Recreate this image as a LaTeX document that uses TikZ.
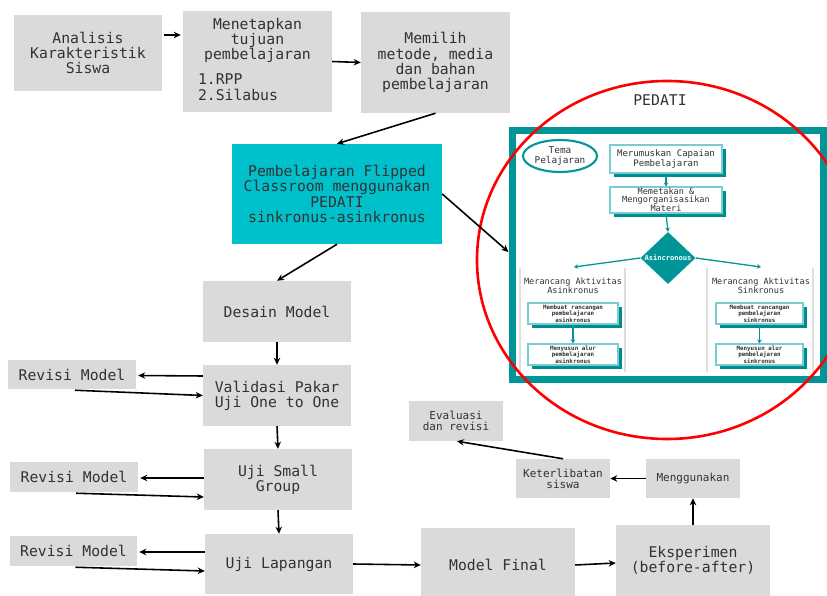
\documentclass[tikz,border=0pt]{standalone}
\usepackage{fontspec}
\setmonofont{DejaVu Sans Mono}
\usetikzlibrary{positioning,calc,shapes.geometric,arrows.meta,shadows}
\definecolor{boxgrey}{RGB}{218,218,218}
\definecolor{txtgrey}{RGB}{50,50,50}
\definecolor{flipteal}{RGB}{0,192,204}
\definecolor{frameteal}{RGB}{0,150,152}
\definecolor{shadeteal}{RGB}{0,140,142}
\definecolor{lineteal}{RGB}{120,205,210}
\definecolor{panelgrey}{RGB}{222,222,222}
\newcommand{\px}{0.03cm}
\tikzset{
  box/.style={fill=boxgrey, text=txtgrey, align=center, inner sep=0pt,
    font=\ttfamily\fontsize{12.6}{12.9}\selectfont},
  minibox/.style={box, font=\ttfamily\fontsize{9.4}{9.6}\selectfont},
  arr/.style={-{Stealth[length=6pt,width=5.5pt]}, line width=1.35pt, black},
  tarr/.style={-{Stealth[length=3.5pt,width=4pt]}, line width=1.1pt, frameteal},
  stepbox/.style={fill=white, draw=lineteal, line width=0.9pt, align=center,
    text=txtgrey, inner sep=0pt,
    drop shadow={shadow xshift=3.5pt, shadow yshift=-3.5pt, fill=shadeteal, opacity=1}},
  tinytext/.style={font=\ttfamily\bfseries\fontsize{5}{5.6}\selectfont},
  paneltitle/.style={text=txtgrey, align=center, font=\ttfamily\fontsize{7.3}{7.4}\selectfont},
}
\begin{document}
\begin{tikzpicture}[x=\px, y=-\px]
\useasboundingbox (0,0) rectangle (827,596);
\clip (0,0) rectangle (827,596);

% Design stages at the top
\node[box, minimum width=148*\px, minimum height=76*\px] (ana) at (88,53) {Analisis\\Karakteristik\\Siswa};
\node[box, minimum width=149*\px, minimum height=101*\px] (tuj) at (257.5,61.5) {};
\node[text=txtgrey, align=center, anchor=north, inner sep=0pt,
  font=\ttfamily\fontsize{12.6}{12.9}\selectfont] (tujtxt) at ($(tuj.north)+(0,7)$) {Menetapkan\\tujuan\\pembelajaran};
\node[text=txtgrey, align=left, anchor=north west, inner sep=0pt,
  font=\ttfamily\fontsize{12.6}{13.6}\selectfont] (tujlist) at ($(tuj.north west)+(15,63)$) {1.RPP\\2.Silabus};
\node[box, minimum width=149*\px, minimum height=101*\px] (met) at (435.5,62.5) {Memilih\\metode, media\\dan bahan\\pembelajaran};
\node[box, fill=flipteal, minimum width=210*\px, minimum height=100*\px] (flip) at (337,194)
  {Pembelajaran Flipped\\Classroom menggunakan\\PEDATI\\sinkronus-asinkronus};

% Development and validation
\node[box, minimum width=148*\px, minimum height=61*\px] (des) at (277,311.5) {Desain Model};
\node[box, minimum width=148*\px, minimum height=61*\px] (val) at (277,395.5) {Validasi Pakar\\Uji One to One};
\node[box, minimum width=148*\px, minimum height=61*\px] (small) at (278,479.5) {Uji Small\\Group};
\node[box, minimum width=148*\px, minimum height=60*\px] (lap) at (279,564) {Uji Lapangan};
\node[box, minimum width=128*\px, minimum height=29*\px] (rev1) at (72,374.5) {Revisi Model};
\node[box, minimum width=128*\px, minimum height=30*\px] (rev2) at (74,477) {Revisi Model};
\node[box, minimum width=127*\px, minimum height=30*\px] (rev3) at (73.5,551) {Revisi Model};

% Final model and experiment
\node[box, minimum width=154*\px, minimum height=74*\px] (fin) at (498,565) {Model Final};
\node[box, minimum width=154*\px, minimum height=71*\px] (eks) at (693,560.5) {Eksperimen\\(before-after)};
\node[minibox, minimum width=94*\px, minimum height=39*\px] (meng) at (693,478.5) {Menggunakan};
\node[minibox, minimum width=94*\px, minimum height=39*\px] (ket) at (563,478.5) {Keterlibatan\\siswa};
\node[minibox, minimum width=94*\px, minimum height=40*\px] (eva) at (456,421) {Evaluasi\\dan revisi};

% PEDATI frame
\node[text=txtgrey, font=\ttfamily\fontsize{12.6}{13}\selectfont] (pedlabel) at (660,100) {PEDATI};
\node[draw=frameteal, line width=7*\px, minimum width=311*\px, minimum height=249*\px] (frame) at (667.5,255) {};
\node[ellipse, draw=frameteal, line width=1.8pt, minimum width=74*\px, minimum height=32*\px, inner sep=0pt,
  paneltitle, font=\ttfamily\fontsize{8}{8.2}\selectfont] (tema) at (560,156) {Tema\\Pelajaran};
\node[stepbox, minimum width=112*\px, minimum height=28*\px, font=\ttfamily\fontsize{7.7}{7.9}\selectfont] (rumus) at (666,159)
  {Merumuskan Capaian\\Pembelajaran};
\node[stepbox, minimum width=112*\px, minimum height=26*\px, font=\ttfamily\fontsize{7.3}{6.9}\selectfont] (peta) at (666,200)
  {Memetakan \&\\Mengorganisasikan\\Materi};
\node[diamond, fill=frameteal, minimum width=55*\px, minimum height=52*\px, inner sep=0pt] (dia) at (668,258) {};
\node[tinytext, text=white, font=\ttfamily\bfseries\fontsize{6}{6}\selectfont] (asin) at (dia.center) {Asincronous};
\coordinate (asTop) at (574,267);
\coordinate (sTop) at (761,267);

% two panels
\draw[panelgrey, line width=1.3pt] (520,268) -- (520,372) (625,268) -- (625,372);
\draw[panelgrey, line width=1.3pt] (707,268) -- (707,372) (813,268) -- (813,372);
\node[paneltitle] (asjudul) at (573,286) {Merancang Aktivitas\\Asinkronus};
\node[paneltitle] (sjudul) at (761,286) {Merancang Aktivitas\\Sinkronus};
\node[stepbox, tinytext, minimum width=90*\px, minimum height=21*\px] (asbuat) at (573,313.5) {Membuat rancangan\\pembelajaran\\asinkronus};
\node[stepbox, tinytext, minimum width=90*\px, minimum height=21*\px] (assusun) at (573,354.5) {Menyusun alur\\pembelajaran\\asinkronus};
\node[stepbox, tinytext, minimum width=87*\px, minimum height=21*\px] (sbuat) at (759.5,313.5) {Membuat rancangan\\pembelajaran\\sinkronus};
\node[stepbox, tinytext, minimum width=87*\px, minimum height=21*\px] (ssusun) at (759.5,354.5) {Menyusun alur\\pembelajaran\\sinkronus};

\draw[tarr] (rumus.south) -- (peta.north);
\draw[tarr] (peta.south) -- (dia.north);
\draw[tarr] (dia.west) -- (asTop);
\draw[tarr] (dia.east) -- (sTop);
\draw[tarr] (asbuat.south) -- (assusun.north);
\draw[tarr] (sbuat.south) -- (ssusun.north);

% red circle round PEDATI
\draw[red, line width=2.6*\px] (667,260) ellipse [x radius=190*\px, y radius=179*\px];

% Connectors
\draw[arr] ($(ana.east)+(2,-18)$) -- ($(tuj.west)+(-2,-26.5)$);
\draw[arr] (tuj.east) -- (met.west);
\draw[arr] (met.south) -- (flip.north);
\draw[arr] (flip.east) -- ($(frame.west)+(0,-3)$);
\draw[arr] (flip.south) -- (des.north);
\draw[arr] (des.south) -- (val.north);
\draw[arr] ($(val.west)+(0,-19.5)$) -- ($(rev1.east)+(2,1)$);
\draw[arr] ($(rev1.south)+(3,1)$) -- (val.west);
\draw[arr] (val.south) -- (small.north);
\draw[arr] ($(small.west)+(0,-1.5)$) -- ($(rev2.east)+(2,1)$);
\draw[arr] ($(rev2.south)+(2,1)$) -- ($(small.west)+(0,17.5)$);
\draw[arr] (small.south) -- (lap.north);
\draw[arr] ($(lap.west)+(0,-12)$) -- ($(rev3.east)+(2,1)$);
\draw[arr] ($(rev3.south)+(2,1)$) -- ($(lap.west)+(0,7)$);
\draw[arr] (lap.east) -- (fin.west);
\draw[arr] (fin.east) -- ($(eks.west)+(0,2.5)$);
\draw[arr] (eks.north) -- (meng.south);
\draw[arr] (meng.west) -- (ket.east);
\draw[arr] (ket.north) -- ($(eva.south)+(1,0)$);
\end{tikzpicture}
\end{document}
